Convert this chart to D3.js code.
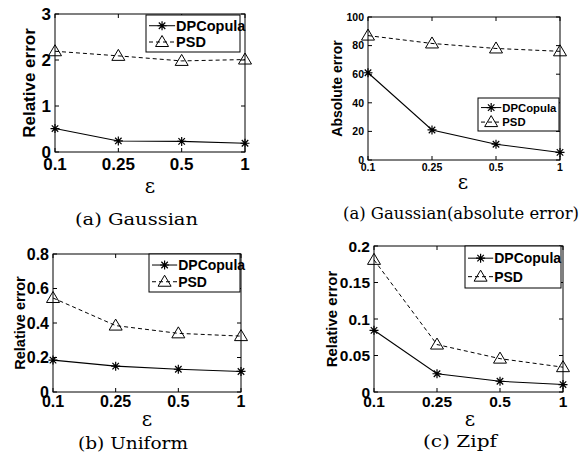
<!DOCTYPE html>
<html>
<head>
<meta charset="utf-8">
<script src="https://cdn.jsdelivr.net/npm/d3@7"></script>
<style>
  body { margin: 0; background: #fff; }
  text { fill: #000; }
</style>
</head>
<body>
<script>
// epsilon values on the x axis (shared by all four plots)
var epsilons = ["0.1", "0.25", "0.5", "1"];
var seriesNames = ["DPCopula", "PSD"];

// (a) Gaussian, relative error
var gaussDP  = [0.51, 0.24, 0.23, 0.19];
var gaussPSD = [2.19, 2.09, 1.98, 2.01];
var gaussTicks = [0, 1, 2, 3];

// (a) Gaussian, absolute error
var gaussAbsDP  = [61, 21, 11, 5.3];
var gaussAbsPSD = [87, 81.5, 78, 76];
var gaussAbsTicks = [0, 20, 40, 60, 80, 100];

// (b) Uniform
var uniformDP  = [0.185, 0.15, 0.132, 0.119];
var uniformPSD = [0.545, 0.385, 0.34, 0.324];
var uniformTicks = [0, 0.2, 0.4, 0.6, 0.8];

// (c) Zipf
var zipfDP  = [0.0845, 0.025, 0.0147, 0.0102];
var zipfPSD = [0.181, 0.065, 0.0457, 0.034];
var zipfTicks = [0, 0.05, 0.1, 0.15, 0.2];

var svg = d3.select("body").append("svg")
    .attr("width", 580)
    .attr("height", 466);

var panels = [
  {box: [55, 14, 245, 152], ticks: gaussTicks, dp: gaussDP, psd: gaussPSD,
   ylabel: "Relative error", tickFs: 17, labFs: 17, legFs: 14.5,
   legend: [146, 15, 94, 37], ylabX: 29, xlabY: 170, epsX: 150, epsY: 193,
   caption: "(a) Gaussian", capX: 75, capY: 225, capW: 123},
  {box: [368, 17, 560, 160], ticks: gaussAbsTicks, dp: gaussAbsDP, psd: gaussAbsPSD,
   ylabel: "Absolute error", tickFs: 10.5, labFs: 14, legFs: 11.3,
   legend: [478, 98, 81, 33], ylabX: 337, xlabY: 170.5, epsX: 463, epsY: 189,
   caption: "(a) Gaussian(absolute error)", capX: 343, capY: 219, capW: 236},
  {box: [53, 254, 241, 392], ticks: uniformTicks, dp: uniformDP, psd: uniformPSD,
   ylabel: "Relative error", tickFs: 16, labFs: 14.5, legFs: 14,
   legend: [149, 254, 91, 38], ylabX: 20, xlabY: 407, epsX: 147, epsY: 426,
   caption: "(b) Uniform", capX: 78, capY: 449, capW: 110},
  {box: [374, 246, 563, 392], ticks: zipfTicks, dp: zipfDP, psd: zipfPSD,
   ylabel: "Relative error", tickFs: 15.5, labFs: 15, legFs: 14,
   legend: [465, 246, 96, 42], ylabX: 332, xlabY: 407, epsX: 470, epsY: 426,
   caption: "(c) Zipf", capX: 423, capY: 447, capW: 74}
];

function asterisk(g, x, y) {
  var r = 4.5, d = r * 0.72;
  var p = "M" + (x - r) + "," + y + "H" + (x + r) +
          "M" + x + "," + (y - r) + "V" + (y + r) +
          "M" + (x - d) + "," + (y - d) + "L" + (x + d) + "," + (y + d) +
          "M" + (x - d) + "," + (y + d) + "L" + (x + d) + "," + (y - d);
  g.append("path").attr("d", p).attr("stroke", "#000").attr("stroke-width", 1.2).attr("fill", "none");
}

function triangle(g, x, y) {
  var p = "M" + x + "," + (y - 6.5) + "L" + (x + 6.5) + "," + (y + 4.5) + "L" + (x - 6.5) + "," + (y + 4.5) + "Z";
  g.append("path").attr("d", p).attr("stroke", "#000").attr("stroke-width", 1).attr("fill", "none");
}

panels.forEach(function(p) {
  var g = svg.append("g");
  var x = d3.scalePoint().domain(epsilons).range([p.box[0], p.box[2]]);
  var y = d3.scaleLinear().domain([0, d3.max(p.ticks)]).range([p.box[3], p.box[1]]);

  // box
  g.append("rect")
    .attr("x", p.box[0]).attr("y", p.box[1])
    .attr("width", p.box[2] - p.box[0]).attr("height", p.box[3] - p.box[1])
    .attr("fill", "none").attr("stroke", "#000").attr("stroke-width", 1);

  // inward ticks on all four sides
  var tl = 4;
  p.ticks.forEach(function(t) {
    g.append("line").attr("x1", p.box[0]).attr("x2", p.box[0] + tl)
      .attr("y1", y(t)).attr("y2", y(t)).attr("stroke", "#000");
    g.append("line").attr("x1", p.box[2]).attr("x2", p.box[2] - tl)
      .attr("y1", y(t)).attr("y2", y(t)).attr("stroke", "#000");
    g.append("text")
      .attr("x", p.box[0] - 4).attr("y", y(t)).attr("dy", "0.36em")
      .attr("text-anchor", "end")
      .style("font", "bold " + p.tickFs + "px 'Liberation Sans', Arial, sans-serif")
      .text(t === 0 ? "0" : String(t));
  });
  epsilons.forEach(function(e) {
    g.append("line").attr("x1", x(e)).attr("x2", x(e))
      .attr("y1", p.box[3]).attr("y2", p.box[3] - tl).attr("stroke", "#000");
    g.append("line").attr("x1", x(e)).attr("x2", x(e))
      .attr("y1", p.box[1]).attr("y2", p.box[1] + tl).attr("stroke", "#000");
    g.append("text")
      .attr("x", x(e)).attr("y", p.xlabY)
      .attr("text-anchor", "middle")
      .style("font", "bold " + p.tickFs + "px 'Liberation Sans', Arial, sans-serif")
      .text(e);
  });

  // axis labels
  g.append("text")
    .attr("transform", "translate(" + p.ylabX + "," + ((p.box[1] + p.box[3]) / 2) + ") rotate(-90)")
    .attr("text-anchor", "middle").attr("dy", "0.36em")
    .style("font", "bold " + p.labFs + "px 'Liberation Sans', Arial, sans-serif")
    .text(p.ylabel);
  g.append("text")
    .attr("x", p.epsX).attr("y", p.epsY)
    .attr("text-anchor", "middle")
    .style("font", "20px 'DejaVu Serif', serif")
    .text("ε");

  // series lines
  var line = d3.line()
    .x(function(d, i) { return x(epsilons[i]); })
    .y(function(d) { return y(d); });
  g.append("path").datum(p.psd).attr("d", line)
    .attr("fill", "none").attr("stroke", "#000").attr("stroke-width", 1)
    .attr("stroke-dasharray", "4,3");
  g.append("path").datum(p.dp).attr("d", line)
    .attr("fill", "none").attr("stroke", "#000").attr("stroke-width", 1.1);
  p.dp.forEach(function(v, i) { asterisk(g, x(epsilons[i]), y(v)); });
  p.psd.forEach(function(v, i) { triangle(g, x(epsilons[i]), y(v)); });

  // legend
  var L = p.legend;
  g.append("rect").attr("x", L[0]).attr("y", L[1]).attr("width", L[2]).attr("height", L[3])
    .attr("fill", "#fff").attr("stroke", "#000").attr("stroke-width", 1);
  var sw = p.legFs * 1.8;
  seriesNames.forEach(function(name, i) {
    var ly = L[1] + L[3] * (i === 0 ? 0.29 : 0.73);
    var lx = L[0] + 3;
    g.append("line").attr("x1", lx).attr("x2", lx + sw).attr("y1", ly).attr("y2", ly)
      .attr("stroke", "#000").attr("stroke-dasharray", i === 0 ? null : "4,3");
    if (i === 0) asterisk(g, lx + sw / 2, ly); else triangle(g, lx + sw / 2, ly);
    g.append("text").attr("x", lx + sw + 1).attr("y", ly).attr("dy", "0.36em")
      .style("font", "bold " + p.legFs + "px 'Liberation Sans', Arial, sans-serif")
      .text(name);
  });

  // caption
  g.append("text")
    .attr("x", p.capX).attr("y", p.capY)
    .attr("textLength", p.capW).attr("lengthAdjust", "spacingAndGlyphs")
    .style("font", "16px 'DejaVu Serif', serif")
    .text(p.caption);
});
</script>
</body>
</html>
